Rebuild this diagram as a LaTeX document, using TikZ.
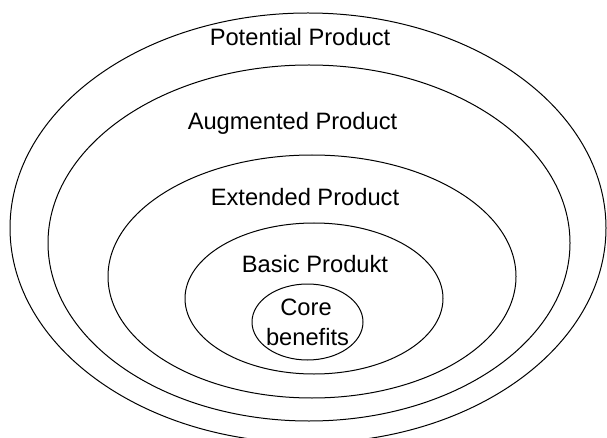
\documentclass[tikz,border=0pt]{standalone}
\usepackage{fontspec}
\setmainfont{Liberation Sans}
\usetikzlibrary{shapes.geometric}
\begin{document}
\begin{tikzpicture}[x=1pt,y=-1pt,
  ring/.style={draw=black, line width=1pt, ellipse, inner sep=0pt, outer sep=0pt},
  lbl/.style={anchor=base, inner sep=0pt, font=\fontsize{23.7}{28}\selectfont}]
\useasboundingbox (0,0) rectangle (607,438);
\node[ring, minimum width=596pt, minimum height=430pt] (potential) at (308,228) {};
\node[ring, minimum width=522pt, minimum height=356pt] (augmented) at (309,243) {};
\node[ring, minimum width=408pt, minimum height=243pt] (extended) at (312,276.5) {};
\node[ring, minimum width=258pt, minimum height=151pt] (basic) at (314,298.5) {};
\node[ring, minimum width=111pt, minimum height=76pt] (core) at (307.5,322) {};
\node[lbl] (tpot) at (300,46) {Potential Product};
\node[lbl] (taug) at (292.5,130) {Augmented Product};
\node[lbl] (text) at (305,206) {Extended Product};
\node[lbl] (tbas) at (315,272) {Basic Produkt};
\node[lbl] (tcore1) at (306,315) {Core};
\node[lbl] (tcore2) at (307.5,345) {benefits};
\end{tikzpicture}
\end{document}
